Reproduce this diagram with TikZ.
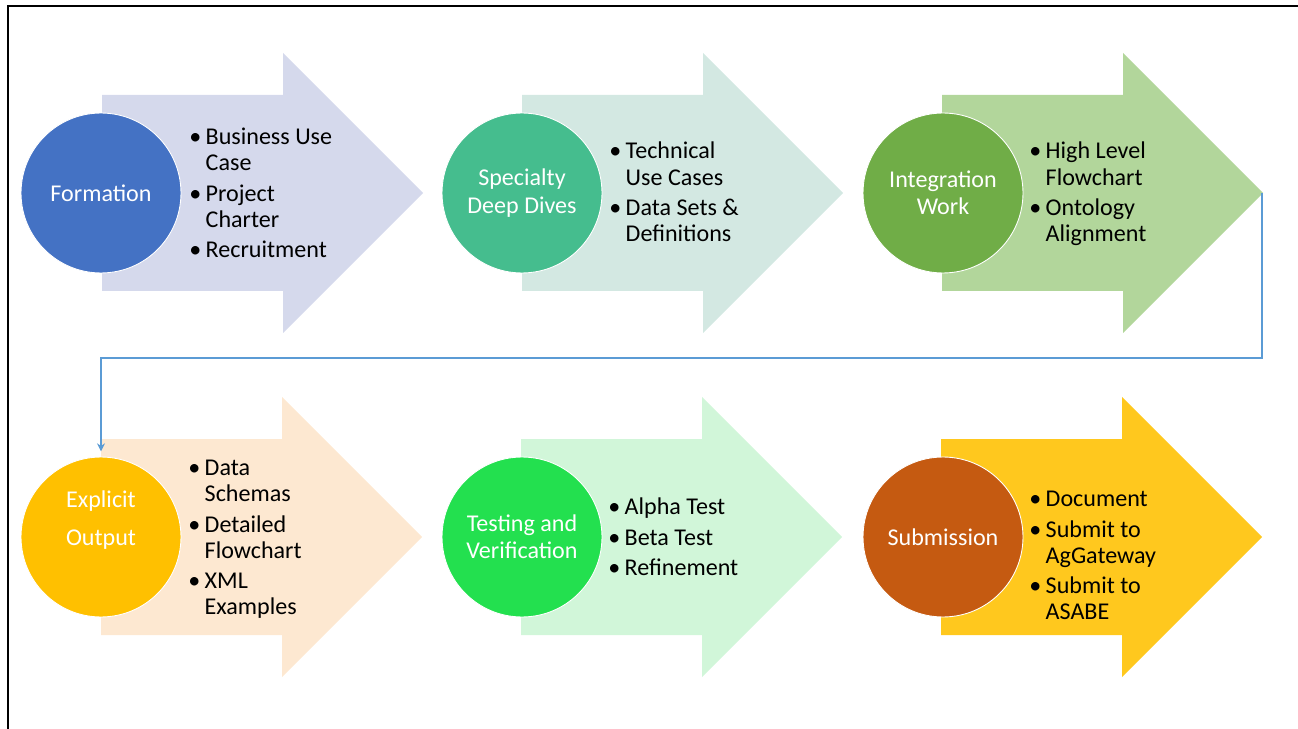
\documentclass[tikz,border=0pt]{standalone}
\usepackage{fontspec}
\setmainfont{Carlito}
\usepackage{tikz}
\usetikzlibrary{arrows.meta}

\definecolor{formbody}{HTML}{D5D9EC}
\definecolor{formcirc}{HTML}{4472C4}
\definecolor{specbody}{HTML}{D3E8E2}
\definecolor{speccirc}{HTML}{45BD8E}
\definecolor{intbody}{HTML}{B2D69B}
\definecolor{intcirc}{HTML}{70AD47}
\definecolor{outbody}{HTML}{FDE8D1}
\definecolor{outcirc}{HTML}{FFC000}
\definecolor{testbody}{HTML}{D1F6D9}
\definecolor{testcirc}{HTML}{23E04F}
\definecolor{subbody}{HTML}{FFC81E}
\definecolor{subcirc}{HTML}{C55A11}
\definecolor{flowblue}{HTML}{5B9BD5}

% one block arrow, tail at the circle centre
\newcommand{\blockarrow}[3]{%
  \fill[#3] (#1,#2-98) -- (#1+181,#2-98) -- (#1+181,#2-140) -- (#1+321,#2)
    -- (#1+181,#2+140) -- (#1+181,#2+98) -- (#1,#2+98) -- cycle;}

\begin{document}
\begin{tikzpicture}[x=0.02cm,y=-0.02cm,
    stage/.style={circle,minimum size=3.2cm,inner sep=0pt,draw=white,
      line width=0.5pt,text=white,align=center,
      font=\fontsize{13.7}{15.6}\selectfont},
    items/.style={anchor=west,inner sep=0pt,
      font=\fontsize{13.7}{14.8}\selectfont},
    flowline/.style={flowblue,line width=1.1pt,
      -{Stealth[length=4.5pt,width=4.5pt]},shorten >=3pt}]
    \useasboundingbox (0,0) rectangle (1298,729);
    \draw[line width=1.6pt] (8,729) -- (8,6) -- (1298,6);

    % top row
    \blockarrow{102}{193}{formbody}
    \blockarrow{522}{193}{specbody}
    \blockarrow{942}{193}{intbody}
    \node[stage,fill=formcirc] (c1) at (101,193) {Formation};
    \node[stage,fill=speccirc] (c2) at (522,193) {Specialty\\Deep Dives};
    \node[stage,fill=intcirc] (c3) at (943,193) {Integration\\Work};
    \coordinate (tip3) at (1262,193);

    \node[items] (l1) at (189,196) {\begin{tabular}{@{}l@{\hspace{2.5pt}}l@{}}
      \textbullet & Business Use\\ & Case\\[2.5pt]
      \textbullet & Project\\ & Charter\\[2.5pt]
      \textbullet & Recruitment\end{tabular}};
    \node[items] (l2) at (609,195) {\begin{tabular}{@{}l@{\hspace{2.5pt}}l@{}}
      \textbullet & Technical\\ & Use Cases\\[2.5pt]
      \textbullet & Data Sets \&\\ & Definitions\end{tabular}};
    \node[items] (l3) at (1029,195) {\begin{tabular}{@{}l@{\hspace{2.5pt}}l@{}}
      \textbullet & High Level\\ & Flowchart\\[2.5pt]
      \textbullet & Ontology\\ & Alignment\end{tabular}};

    % bottom row
    \blockarrow{101}{537}{outbody}
    \blockarrow{521}{537}{testbody}
    \blockarrow{941}{537}{subbody}
    \node[stage,fill=outcirc] (c4) at (101,537) {};
    \node[stage,draw=none,fill=none] (c4text) at (101,520)
      {Explicit\\[6pt]Output};
    \node[stage,fill=testcirc] (c5) at (522,537) {Testing and\\Verification};
    \node[stage,fill=subcirc] (c6) at (943,537) {Submission};

    \node[items] (l4) at (188,540) {\begin{tabular}{@{}l@{\hspace{2.5pt}}l@{}}
      \textbullet & Data\\ & Schemas\\[2.5pt]
      \textbullet & Detailed\\ & Flowchart\\[2.5pt]
      \textbullet & XML\\ & Examples\end{tabular}};
    \node[items] (l5) at (608,540) {\begin{tabular}{@{}l@{\hspace{2.5pt}}l@{}}
      \textbullet & Alpha Test\\[2.5pt]
      \textbullet & Beta Test\\[2.5pt]
      \textbullet & Refinement\end{tabular}};
    \node[items] (l6) at (1029,558) {\begin{tabular}{@{}l@{\hspace{2.5pt}}l@{}}
      \textbullet & Document\\[2.5pt]
      \textbullet & Submit to\\ & AgGateway\\[2.5pt]
      \textbullet & Submit to\\ & ASABE\end{tabular}};

    % link from the end of the top row to the bottom row
    \coordinate (turn) at (1262,358);
    \draw[flowline] (tip3) -- (turn) -| (c4.north);
  \end{tikzpicture}
\end{document}
